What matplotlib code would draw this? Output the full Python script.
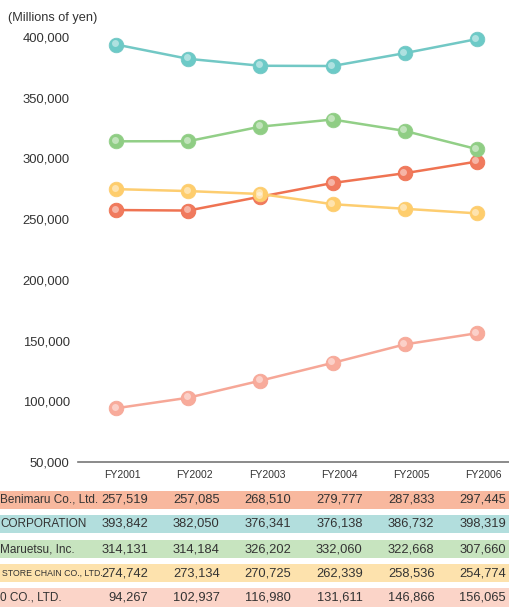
import matplotlib
matplotlib.use("Agg")
import matplotlib.pyplot as plt
from matplotlib.patches import Rectangle
from matplotlib.transforms import offset_copy

# data
years = ["FY2001", "FY2002", "FY2003", "FY2004", "FY2005", "FY2006"]
companies = ["Benimaru Co., Ltd.", "CORPORATION", "Maruetsu, Inc.",
             "STORE CHAIN CO., LTD.", "0 CO., LTD."]
benimaru = [257519, 257085, 268510, 279777, 287833, 297445]
corporation = [393842, 382050, 376341, 376138, 386732, 398319]
maruetsu = [314131, 314184, 326202, 332060, 322668, 307660]
store_chain = [274742, 273134, 270725, 262339, 258536, 254774]
co_ltd = [94267, 102937, 116980, 131611, 146866, 156065]
series = [benimaru, corporation, maruetsu, store_chain, co_ltd]

line_colors = ["#ef7352", "#72c8c5", "#92cf87", "#fdcd70", "#f6a797"]
ball_colors = ["#f07a5e", "#6ccac7", "#8fcd84", "#fecd6c", "#f8ab9b"]
row_colors = ["#f8b89e", "#b2dedd", "#c7e4bf", "#fde2ad", "#fbd4c8"]
yticks = [50000, 100000, 150000, 200000, 250000, 300000, 350000, 400000]

plt.rcParams["font.family"] = ["Liberation Sans", "DejaVu Sans"]

W, H = 510, 607
fig = plt.figure(figsize=(W / 100, H / 100), dpi=100)

def fx(px):
    return px / W

def fy(py):
    return 1 - py / H

# chart area
x0, x_first, step = 78, 116, 72.2
ax = fig.add_axes([fx(x0), fy(462), 1 - fx(x0), fy(20) - fy(462)])
px_per = 60.71 / 50000
ax.set_ylim(50000, 50000 + (462 - 20) / px_per)
ax.set_xlim(-(x_first - x0) / step, (W - x0) / step - (x_first - x0) / step)

xs = list(range(len(years)))
hl = offset_copy(ax.transData, fig=fig, x=-1.5, y=1.5, units="dots")
for vals, lc, bc in zip(series, line_colors, ball_colors):
    ax.plot(xs, vals, color=lc, lw=1.8, zorder=2, clip_on=False)
    ax.plot(xs, vals, ls="none", marker="o", ms=10.5, mfc=bc, mec=lc,
            mew=0.6, zorder=3, clip_on=False)
    ax.plot(xs, vals, ls="none", marker="o", ms=5, mfc="white", mec="none",
            alpha=0.45, zorder=4, clip_on=False, transform=hl)

for s in ["left", "right", "top"]:
    ax.spines[s].set_visible(False)
ax.spines["bottom"].set_color("#777777")
ax.spines["bottom"].set_linewidth(1.2)
ax.set_yticks(yticks)
ax.set_yticklabels([f"{v:,}" for v in yticks])
ax.tick_params(axis="y", length=0, pad=6, labelsize=9.4, labelcolor="#333333")
ax.set_xticks([x + 0.09 for x in xs])
ax.set_xticklabels(years)
ax.tick_params(axis="x", length=0, pad=6, labelsize=7.5, labelcolor="#333333")

fig.text(fx(8), fy(18), "(Millions of yen)", fontsize=9.2, color="#333333",
         ha="left", va="center")

# table below
row_tops = [491, 515, 540, 564, 588]
for i, (name, vals) in enumerate(zip(companies, series)):
    top = row_tops[i]
    h = 18 if i < 4 else H - top
    fig.patches.append(Rectangle((0, fy(top + h)), 1, h / H, transform=fig.transFigure,
                                 facecolor=row_colors[i], edgecolor="none", zorder=0))
    cy = fy(top + 9)
    size = 6.3 if i == 3 else 8.5
    fig.text(fx(0 if i != 3 else 2), cy, name, fontsize=size, color="#333333",
             ha="left", va="center")
    for j, v in enumerate(vals):
        fig.text(fx(148 + 71.6 * j), cy, f"{v:,}", fontsize=9.3, color="#333333",
                 ha="right", va="center")

fig.savefig("out.png", dpi=100)
